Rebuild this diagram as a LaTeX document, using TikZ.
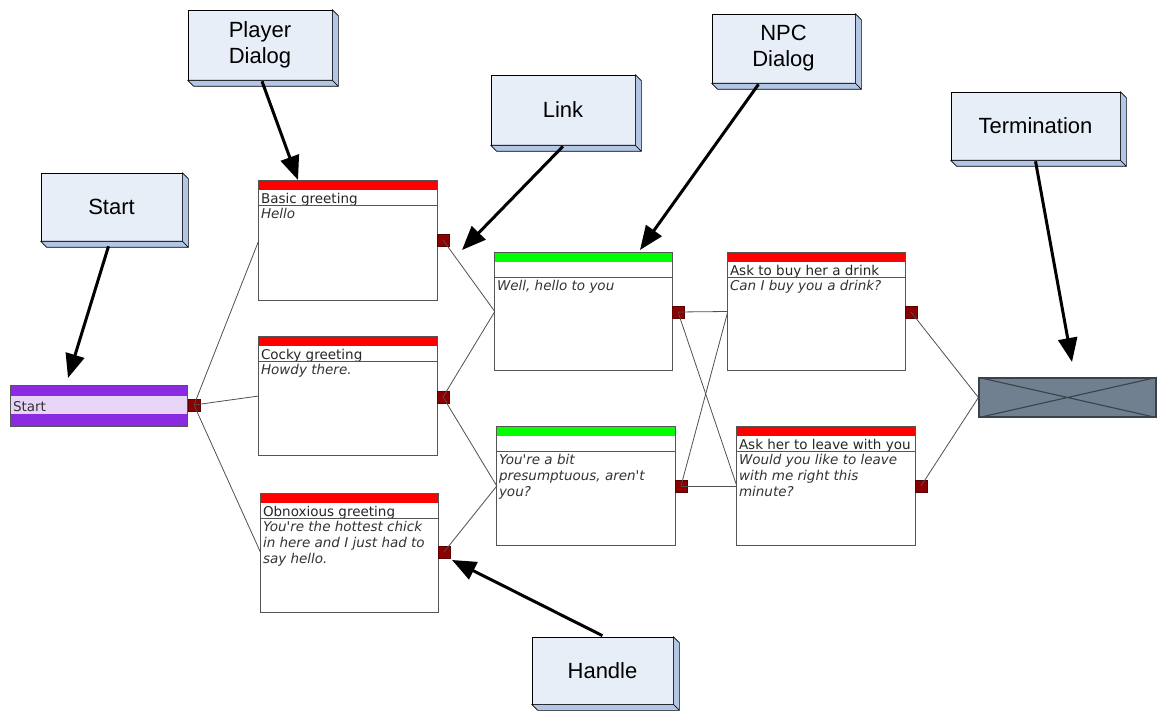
\documentclass[tikz,border=0pt]{standalone}
\usepackage{fontspec}
\setmainfont{Liberation Sans}
\newfontfamily\dlgfont{DejaVu Sans}
\usetikzlibrary{arrows.meta,fit,calc}
\definecolor{calloutface}{HTML}{E8EEF8}
\definecolor{calloutside}{HTML}{B3C6E6}
\definecolor{handlered}{HTML}{8B0000}
\definecolor{handleedge}{HTML}{5A0000}
\definecolor{startpurple}{HTML}{8A2BE2}
\definecolor{startlight}{HTML}{E8D4F7}
\definecolor{termgray}{HTML}{708090}
\definecolor{termedge}{HTML}{3A424A}
\definecolor{bandgreen}{HTML}{00FF00}
\definecolor{bandred}{HTML}{FF0000}
\definecolor{conngray}{HTML}{505050}
\definecolor{boxedge}{HTML}{555555}
\tikzset{
  calloutbox/.style={draw=black, line width=0.6pt, fill=calloutface, inner sep=0pt},
  callouttext/.style={inner sep=0pt, align=center, font=\fontsize{22}{26}\selectfont},
  calloutdepth/.style={fill=calloutside, draw=black, line width=0.6pt, line join=round},
  dlgbox/.style={fill=white, inner sep=0pt},
  dlgline/.style={draw=boxedge, line width=1pt},
  dlgtitle/.style={anchor=base west, inner sep=0pt, font=\dlgfont\fontsize{13.5}{16}\selectfont, text=black!85},
  dlgbody/.style={anchor=north west, inner sep=1pt, align=left, font=\dlgfont\itshape\fontsize{13.5}{16}\selectfont, text=black!80},
  handle/.style={fill=handlered, draw=handleedge, line width=0.5pt, minimum size=12pt, inner sep=0pt},
  conn/.style={draw=conngray, line width=0.8pt},
  callarrow/.style={draw=black, line width=3pt, -{Triangle[length=24pt,width=19pt]}},
}
\newcommand\callout[6]{%
  \path (#2,#3) coordinate (#1-a) (#4,#5) coordinate (#1-b);
  \node[calloutbox, fit=(#1-a)(#1-b)] (#1) {};
  \filldraw[calloutdepth] (#1.north east) -- ++(6,6) -- ($(#1.south east)+(6,6)$) -- (#1.south east) -- cycle;
  \filldraw[calloutdepth] (#1.south west) -- ($(#1.south west)+(6,6)$) -- ($(#1.south east)+(6,6)$) -- (#1.south east) -- cycle;
  \node[callouttext] (#1-text) at (#1.center) {#6};
}
\newcommand\dlg[8]{%
  \path (#2,#3) coordinate (#1-a) (#4,#5) coordinate (#1-b);
  \node[dlgbox, fit=(#1-a)(#1-b)] (#1) {};
  \fill[#6] (#1.north west) rectangle ([yshift=-9pt]#1.north east);
  \begin{scope}
    \clip ([yshift=-9pt]#1.north west) rectangle ([yshift=-25pt]#1.north east);
    \node[dlgtitle] (#1-title) at ([xshift=2pt,yshift=-23pt]#1.north west) {#7};
  \end{scope}
  \draw[dlgline] ([yshift=-25pt]#1.north west) -- ([yshift=-25pt]#1.north east);
  \begin{scope}
    \clip (#1.north west) rectangle (#1.south east);
    \node[dlgbody] (#1-body) at ([xshift=1pt,yshift=-26pt]#1.north west) {#8};
  \end{scope}
  \draw[dlgline] (#1.north west) rectangle (#1.south east);
}
\begin{document}
\begin{tikzpicture}[x=1pt,y=-1pt]
\useasboundingbox (0,0) rectangle (1157,711);

% start node
\path (11,386) coordinate (st-a) (187,426) coordinate (st-b);
\node[fit=(st-a)(st-b), inner sep=0pt, fill=startpurple] (start) {};
\fill[startlight] ([yshift=-10pt]start.north west) rectangle ([yshift=12pt]start.south east);
\node[anchor=west, inner sep=0pt, font=\dlgfont\fontsize{13.5}{16}\selectfont, text=black!80] (start-label) at ([xshift=2pt,yshift=-1pt]start.west) {Start};
\draw[dlgline] (start.north west) rectangle (start.south east);

% dialog nodes
\dlg{basic}{259}{181}{437}{300}{bandred}{Basic greeting}{Hello}
\dlg{cocky}{259}{337}{437}{455}{bandred}{Cocky greeting}{Howdy there.}
\dlg{obnox}{261}{494}{438}{612}{bandred}{Obnoxious greeting}{You're the hottest chick\\in here and I just had to\\say hello.}
\dlg{well}{495}{253}{672}{370}{bandgreen}{}{Well, hello to you}
\dlg{pres}{497}{427}{675}{545}{bandgreen}{}{You're a bit\\presumptuous, aren't\\you?}
\dlg{buy}{728}{253}{905}{370}{bandred}{Ask to buy her a drink}{Can I buy you a drink?}
\dlg{leave}{737}{427}{915}{545}{bandred}{Ask her to leave with you}{Would you like to leave\\with me right this\\minute?}

% termination
\path (979,378) coordinate (tm-a) (1156,417) coordinate (tm-b);
\node[fit=(tm-a)(tm-b), inner sep=0pt, fill=termgray, draw=termedge, line width=1.2pt] (term) {};
\draw[termedge, line width=1.1pt] (term.north west) -- (term.south east) (term.south west) -- (term.north east);

% handles
\node[handle] (h-start) at (194,405) {};
\node[handle] (h-basic) at (443,240) {};
\node[handle] (h-cocky) at (443,397) {};
\node[handle] (h-obnox) at (444,552) {};
\node[handle] (h-well) at (678,312) {};
\node[handle] (h-pres) at (681,486) {};
\node[handle] (h-buy) at (911,312) {};
\node[handle] (h-leave) at (921,486) {};

% connectors
\draw[conn] (h-start.center) -- (basic.west);
\draw[conn] (h-start.center) -- (cocky.west);
\draw[conn] (h-start.center) -- (obnox.west);
\draw[conn] (h-basic.center) -- (well.west);
\draw[conn] (h-cocky.center) -- (well.west);
\draw[conn] (h-cocky.center) -- (pres.west);
\draw[conn] (h-obnox.center) -- (pres.west);
\draw[conn] (h-well.center) -- (buy.west);
\draw[conn] (h-well.center) -- (leave.west);
\draw[conn] (h-pres.center) -- (buy.west);
\draw[conn] (h-pres.center) -- (leave.west);
\draw[conn] (h-buy.center) -- (term.west);
\draw[conn] (h-leave.center) -- (term.west);

% callouts
\callout{cStart}{41}{173}{182}{241}{Start}
\callout{cPlayer}{188}{10}{332}{80}{Player\\Dialog}
\callout{cLink}{491}{75}{635}{145}{Link}
\callout{cNPC}{712}{14}{855}{83}{NPC\\Dialog}
\callout{cTerm}{951}{92}{1120}{160}{Termination}
\callout{cHandle}{532}{637}{673}{704}{Handle}

\coordinate (tipStart) at (68,378);
\coordinate (tipPlayer) at (298,180);
\coordinate (tipLink) at (462,250);
\coordinate (tipNPC) at (640,250);
\coordinate (tipTerm) at (1072,362);
\coordinate (tipHandle) at (452,560);

\draw[callarrow] ([xshift=-3pt,yshift=-5pt]cStart.south) -- (tipStart);
\draw[callarrow] ([xshift=2pt,yshift=-1pt]cPlayer.south) -- (tipPlayer);
\draw[callarrow] ([yshift=-1pt]cLink.south) -- (tipLink);
\draw[callarrow] ([xshift=-25pt,yshift=-1pt]cNPC.south) -- (tipNPC);
\draw[callarrow] ([yshift=-1pt]cTerm.south) -- (tipTerm);
\draw[callarrow] ([yshift=1pt]cHandle.north) -- (tipHandle);
\end{tikzpicture}
\end{document}
